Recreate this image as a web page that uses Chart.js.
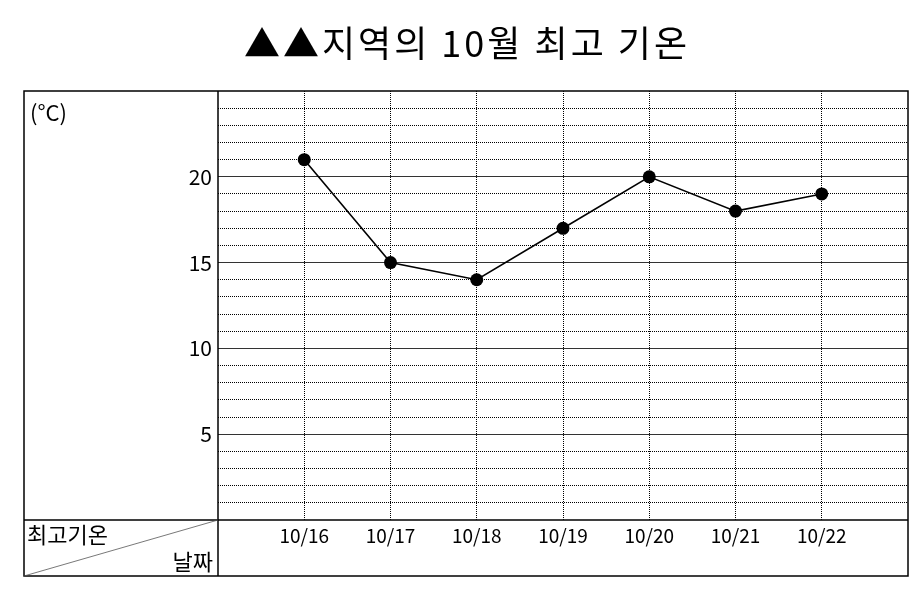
<!DOCTYPE html>
<html>
<head>
<meta charset="utf-8">
<script src="https://cdn.jsdelivr.net/npm/chart.js@4"></script>
<style>
  html, body { margin: 0; padding: 0; background: #fff; }
  #wrap { width: 916px; height: 590px; }
</style>
</head>
<body>
<div id="wrap"><canvas id="ch"></canvas></div>
<script>
const TITLE = "▲▲지역의 10월 최고 기온";
const dates = ["10/16", "10/17", "10/18", "10/19", "10/20", "10/21", "10/22"];
const temps = [21, 15, 14, 17, 20, 18, 19];
const yTicks = [5, 10, 15, 20];
const FONT = "'Noto Sans CJK KR', 'Noto Sans', sans-serif";

// title, plus the table frame: outer box, left column, bottom row, diagonal header
const tableFrame = {
  id: "tableFrame",
  afterDraw(chart) {
    const { ctx, chartArea: a } = chart;
    const left = 24, bottom = 576;
    ctx.save();
    ctx.fillStyle = "#000";
    ctx.font = "36px " + FONT;
    ctx.textAlign = "center";
    ctx.textBaseline = "middle";
    ctx.letterSpacing = "3px";
    ctx.fillText(TITLE, 467, 43);
    ctx.letterSpacing = "0px";

    ctx.strokeStyle = "#000";
    ctx.lineWidth = 1.5;
    ctx.strokeRect(left, a.top, a.right - left, bottom - a.top);
    ctx.beginPath();
    ctx.moveTo(a.left, a.top); ctx.lineTo(a.left, bottom);
    ctx.moveTo(left, a.bottom); ctx.lineTo(a.right, a.bottom);
    ctx.stroke();
    ctx.lineWidth = 0.8;
    ctx.strokeStyle = "#555";
    ctx.beginPath();
    ctx.moveTo(left, bottom); ctx.lineTo(a.left, a.bottom);
    ctx.stroke();

    ctx.font = "22px " + FONT;
    ctx.textAlign = "left";
    ctx.fillText("(°C)", 30, a.top + 22);
    ctx.fillText("최고기온", 27, a.bottom + 15);
    ctx.textAlign = "right";
    ctx.fillText("날짜", a.left - 5, a.bottom + 42);
    ctx.restore();
  }
};

new Chart(document.getElementById("ch"), {
  type: "line",
  data: {
    datasets: [{
      data: temps.map((t, i) => ({ x: i, y: t })),
      borderColor: "#000",
      borderWidth: 1.6,
      backgroundColor: "#000",
      pointRadius: 6.5,
      pointBackgroundColor: "#000",
      pointBorderWidth: 0,
      tension: 0,
      yAxisID: "y"
    }]
  },
  options: {
    responsive: true,
    maintainAspectRatio: false,
    animation: false,
    layout: { padding: { left: 24, right: 8, top: 91, bottom: 14 } },
    plugins: {
      legend: { display: false },
      tooltip: { enabled: false },
      title: { display: false }
    },
    scales: {
      x: {
        type: "linear",
        min: -1, max: 7,
        afterBuildTicks: s => { s.ticks = dates.map((d, i) => ({ value: i })); },
        ticks: {
          color: "#000",
          font: { family: FONT, size: 19 },
          padding: 4,
          autoSkip: false,
          maxRotation: 0,
          callback: v => dates[v]
        },
        grid: { color: "#000", lineWidth: 1, drawTicks: false },
        border: { display: false, dash: [1, 1] },
        afterFit: s => { s.height = 56; }
      },
      y: {
        min: 0, max: 25,
        ticks: { display: false, stepSize: 1 },
        grid: {
          drawTicks: false,
          lineWidth: 1,
          color: c => (c.tick.value % 5 === 0 ? "rgba(0,0,0,0)" : "#000")
        },
        border: { display: false, dash: [1, 1] },
        afterFit: s => { s.width = 0; }
      },
      yMajor: {
        position: "left",
        min: 0, max: 25,
        afterBuildTicks: s => { s.ticks = yTicks.map(v => ({ value: v })); },
        ticks: {
          color: "#000",
          font: { family: FONT, size: 21 },
          padding: 6
        },
        grid: { drawTicks: false, color: "#333", lineWidth: 1 },
        border: { display: false },
        afterFit: s => { s.width = 194; }
      }
    }
  },
  plugins: [tableFrame]
});
</script>
</body>
</html>
